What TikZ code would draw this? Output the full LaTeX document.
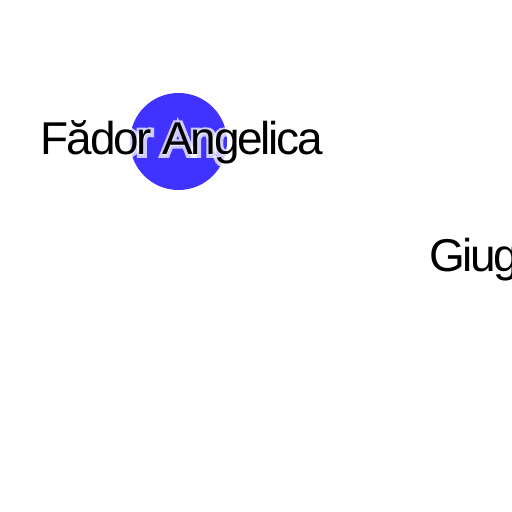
\documentclass[tikz,border=0pt]{standalone}
\usepackage{fontspec}
\setmainfont{Liberation Sans}[LetterSpace=-5]
\newfontfamily\halofont{Liberation Sans}[LetterSpace=-5, FakeBold=13]
\definecolor{dotblue}{RGB}{64,51,255}
\tikzset{
  lbl/.style={inner sep=0pt, anchor=base west, font=\fontsize{46}{50}\selectfont},
  halo/.style={lbl, text=white, text opacity=0.75, font=\fontsize{46}{50}\halofont},
}
\begin{document}
\begin{tikzpicture}[x=1pt,y=1pt]
\useasboundingbox[fill=white] (0,0) rectangle (512,512);
\node[circle, fill=dotblue, minimum size=97pt, inner sep=0pt] (dot) at (178.5,370.5) {};
\coordinate (p1) at (40.8,357);
\node[halo] (fadorhalo) at (p1) {Fădor Angelica};
\node[lbl] (fador) at (p1) {Fădor Angelica};
\coordinate (p2) at (428.8,240.5);
\node[lbl] (giug) at (p2) {Giug};
\end{tikzpicture}
\end{document}
